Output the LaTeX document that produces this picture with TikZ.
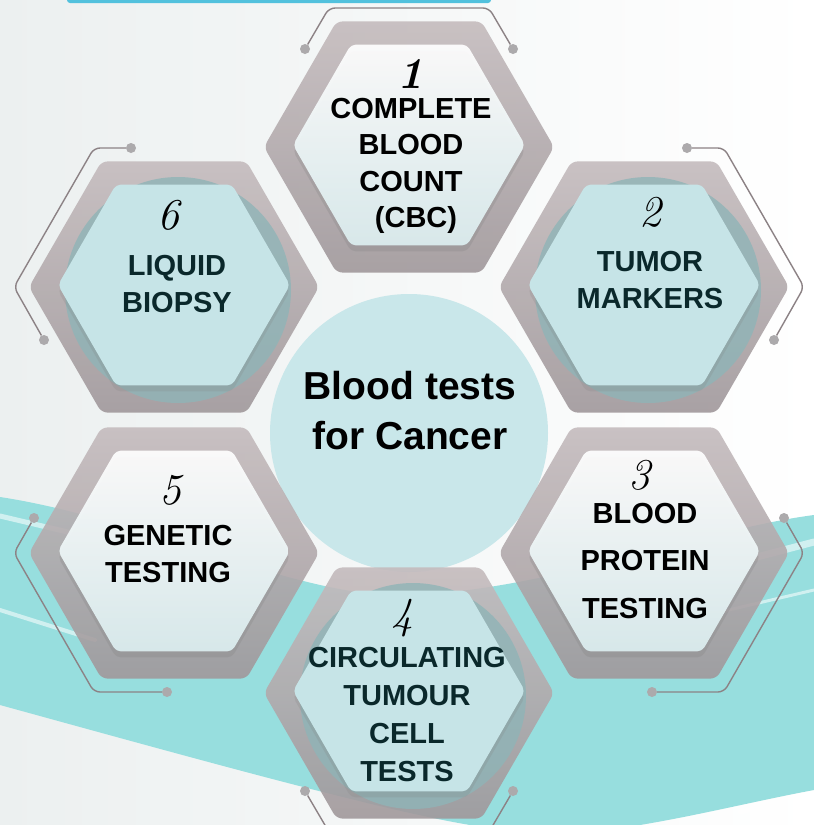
\documentclass[tikz,border=0pt]{standalone}
\usepackage{fontspec}
\newfontfamily\labelfont{Liberation Sans}
\usetikzlibrary{shapes.geometric, shadows, calc}

\definecolor{HEXGREY}{RGB}{196,187,189}
\definecolor{HEXDARK}{RGB}{160,152,155}
\definecolor{TEAL}{RGB}{151,222,222}
\definecolor{LIGHTTEAL}{RGB}{198,228,231}
\definecolor{BLOB}{RGB}{143,180,183}
\definecolor{CORE}{RGB}{201,231,234}
\definecolor{INK}{RGB}{10,40,43}
\definecolor{WIRE}{RGB}{140,130,133}
\definecolor{DOT}{RGB}{172,170,172}
\definecolor{BANNER}{RGB}{82,193,221}
\definecolor{MIST}{RGB}{236,240,240}

\tikzset{
  outerhex/.style={regular polygon, regular polygon sides=6, minimum size=290pt, inner sep=0pt,
    rounded corners=6pt, top color=HEXGREY, bottom color=HEXDARK, fill opacity=0.9},
  whitehex/.style={regular polygon, regular polygon sides=6, minimum size=232pt, inner sep=0pt,
    rounded corners=5pt, top color=white, bottom color=LIGHTTEAL!60, fill opacity=0.92,
    drop shadow={shadow xshift=0pt, shadow yshift=-6pt, opacity=0.25}},
  tealhex/.style={regular polygon, regular polygon sides=6, minimum size=232pt, inner sep=0pt,
    rounded corners=5pt, fill=LIGHTTEAL,
    drop shadow={shadow xshift=0pt, shadow yshift=-6pt, opacity=0.2}},
  blob/.style={circle, minimum size=226pt, inner sep=0pt, fill=BLOB, fill opacity=0.8},
  hextext/.style={font=\labelfont\bfseries\fontsize{29pt}{36.5pt}\selectfont, align=center},
  hexnum/.style={font=\itshape\fontsize{44pt}{44pt}\selectfont},
  wire/.style={WIRE, line width=1.4pt, rounded corners=6pt},
  wiredot/.style={circle, fill=DOT, minimum size=10pt, inner sep=0pt},
  streak/.style={white, line cap=round, opacity=0.55},
}

\begin{document}
\begin{tikzpicture}[x=1pt, y=-1pt]
\clip (0,0) rectangle (814,825);
% background
\shade[left color=MIST, right color=white] (0,0) rectangle (814,825);
\fill[BANNER, rounded corners=3pt] (67,-12) rectangle (491,3);
\fill[TEAL] (0,497) .. controls (150,520) and (300,600) .. (409,595)
  .. controls (550,590) and (700,530) .. (814,515) -- (814,790)
  .. controls (760,800) and (700,815) .. (640,825) -- (470,825)
  .. controls (380,810) and (200,760) .. (0,705) -- cycle;
\draw[streak, line width=5pt] (0,516) -- (110,542);
\draw[streak, line width=4pt] (0,610) -- (95,640);
\draw[streak, line width=7pt] (700,572) -- (814,542);
\draw[streak, line width=3pt] (720,612) -- (814,590);
\draw[streak, line width=5pt] (740,812) -- (814,796);

% centre circle
\node[circle, fill=CORE, minimum size=278pt, inner sep=0pt] (core) at (409,433) {};

% hexagons
\foreach \n/\x/\y in {1/409/147, 2/644/287, 3/644/553, 4/409/693, 5/174/553, 6/174/287}
  \node[outerhex] (h\n) at (\x,\y) {};

\node[blob] (b2) at ($(h2)+(4,3)$) {};
\node[blob] (b4) at ($(h4)+(4,3)$) {};
\node[blob] (b6) at ($(h6)+(4,3)$) {};

\node[whitehex] (i1) at ($(h1)+(0,-2)$) {};
\node[tealhex] (i2) at ($(h2)+(0,-2)$) {};
\node[whitehex] (i3) at ($(h3)+(0,-2)$) {};
\node[tealhex] (i4) at ($(h4)+(0,-2)$) {};
\node[whitehex] (i5) at ($(h5)+(0,-2)$) {};
\node[tealhex] (i6) at ($(h6)+(0,-2)$) {};

% brackets
\node[wiredot] (w1a) at ($(h1)+(-104,-98)$) {};
\node[wiredot] (w1b) at ($(h1)+(104,-98)$) {};
\draw[wire] (w1a) -- ($(h1)+(-80,-139)$) -- ($(h1)+(80,-139)$) -- (w1b);
\node[wiredot] (w2a) at ($(h2)+(43,-139)$) {};
\node[wiredot] (w2b) at ($(h2)+(130,53)$) {};
\draw[wire] (w2a) -- ($(h2)+(80,-139)$) -- ($(h2)+(160,0)$) -- (w2b);
\node[wiredot] (w3a) at ($(h3)+(140,-35)$) {};
\node[wiredot] (w3b) at ($(h3)+(8,139)$) {};
\draw[wire] (w3a) -- ($(h3)+(160,0)$) -- ($(h3)+(80,139)$) -- (w3b);
\node[wiredot] (w4a) at ($(h4)+(-104,98)$) {};
\node[wiredot] (w4b) at ($(h4)+(104,98)$) {};
\draw[wire] (w4a) -- ($(h4)+(-80,139)$) -- ($(h4)+(80,139)$) -- (w4b);
\node[wiredot] (w5a) at ($(h5)+(-140,-35)$) {};
\node[wiredot] (w5b) at ($(h5)+(-7,139)$) {};
\draw[wire] (w5a) -- ($(h5)+(-160,0)$) -- ($(h5)+(-80,139)$) -- (w5b);
\node[wiredot] (w6a) at ($(h6)+(-43,-139)$) {};
\node[wiredot] (w6b) at ($(h6)+(-130,53)$) {};
\draw[wire] (w6a) -- ($(h6)+(-80,-139)$) -- ($(h6)+(-160,0)$) -- (w6b);

% numbers
\node[hexnum, font=\bfseries\itshape\fontsize{44pt}{44pt}\selectfont] (n1) at (410,74) {1};
\node[hexnum] (n2) at (650,212) {2};
\node[hexnum] (n3) at (639,475) {3};
\node[hexnum] (n4) at (402,618) {4};
\node[hexnum] (n5) at (170,490) {5};
\node[hexnum] (n6) at (168,215) {6};

% labels
\node[hextext] (t1) at (411,166) {COMPLETE\\BLOOD\\COUNT\\\hspace*{10pt}(CBC)};
\node[hextext, text=INK] (t2) at (650,280) {TUMOR\\MARKERS};
\node[hextext] (t3) at (645,561) {BLOOD\\[11pt]PROTEIN\\[11pt]TESTING};
\node[hextext, text=INK] (t4) at (407,715) {CIRCULATING\\[1.5pt]TUMOUR\\[1.5pt]CELL\\[1.5pt]TESTS};
\node[hextext] (t5) at (168,554) {GENETIC\\TESTING};
\node[hextext, text=INK] (t6) at (177,284) {LIQUID\\BIOPSY};

\node[font=\labelfont\bfseries\fontsize{39pt}{50pt}\selectfont, align=center] (title) at (410,411) {Blood tests\\for Cancer};
\end{tikzpicture}
\end{document}
